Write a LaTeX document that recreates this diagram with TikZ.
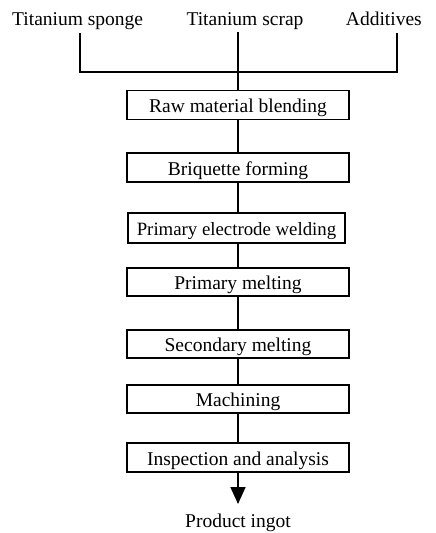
\documentclass[tikz,border=0pt]{standalone}
\usepackage{fontspec}
\setmainfont{Liberation Serif}
\usetikzlibrary{arrows.meta}
\begin{document}
\begin{tikzpicture}[x=1pt,y=-1pt,
  every node/.style={font=\fontsize{19.5}{23}\selectfont},
  stepbox/.style={draw,line width=1.1pt,minimum width=222pt,minimum height=29pt,inner sep=0pt,anchor=center,text height=15pt,text depth=0pt},
  label/.style={inner sep=0pt},
  conn/.style={line width=1.8pt}]
\useasboundingbox (0,0) rectangle (436,533);
\node[label,anchor=base west] (sponge) at (12,25) {Titanium sponge};
\node[label,anchor=base] (scrap) at (245,25) {Titanium scrap};
\node[label,anchor=base east] (add) at (422,25) {Additives};
\node[stepbox] (b1) at (238,105) {Raw material blending};
\node[stepbox] (b2) at (238,167.5) {Briquette forming};
\node[stepbox,minimum width=217pt,minimum height=30pt,font=\fontsize{18.8}{23}\selectfont] (b3) at (236.5,228) {Primary electrode welding};
\node[stepbox,minimum height=28pt] (b4) at (238,282) {Primary melting};
\node[stepbox,minimum height=28pt] (b5) at (238,344) {Secondary melting};
\node[stepbox,minimum height=28pt] (b6) at (238,399) {Machining};
\node[stepbox] (b7) at (238,457.5) {Inspection and analysis};
\node[label,anchor=base] (prod) at (238,527) {Product ingot};
\coordinate (ls) at (80,33);
\coordinate (rs) at (397,33);
\coordinate (lc) at (80,72);
\coordinate (rc) at (397,72);
\coordinate (ms) at (238,32);
\coordinate (arrend) at (238,504);
\draw[conn] (ls) -- (lc) -- (rc) -- (rs);
\draw[conn] (ms) -- (b1.north);
\draw[conn] (b1) -- (b2);
\draw[conn] (b2) -- (b1 |- b3.north);
\draw[conn] (b1 |- b3.south) -- (b4);
\draw[conn] (b4) -- (b5);
\draw[conn] (b5) -- (b6);
\draw[conn] (b6) -- (b7);
\draw[conn,-{Triangle[length=17pt,width=15pt]}] (b7.south) -- (arrend);
\end{tikzpicture}
\end{document}
